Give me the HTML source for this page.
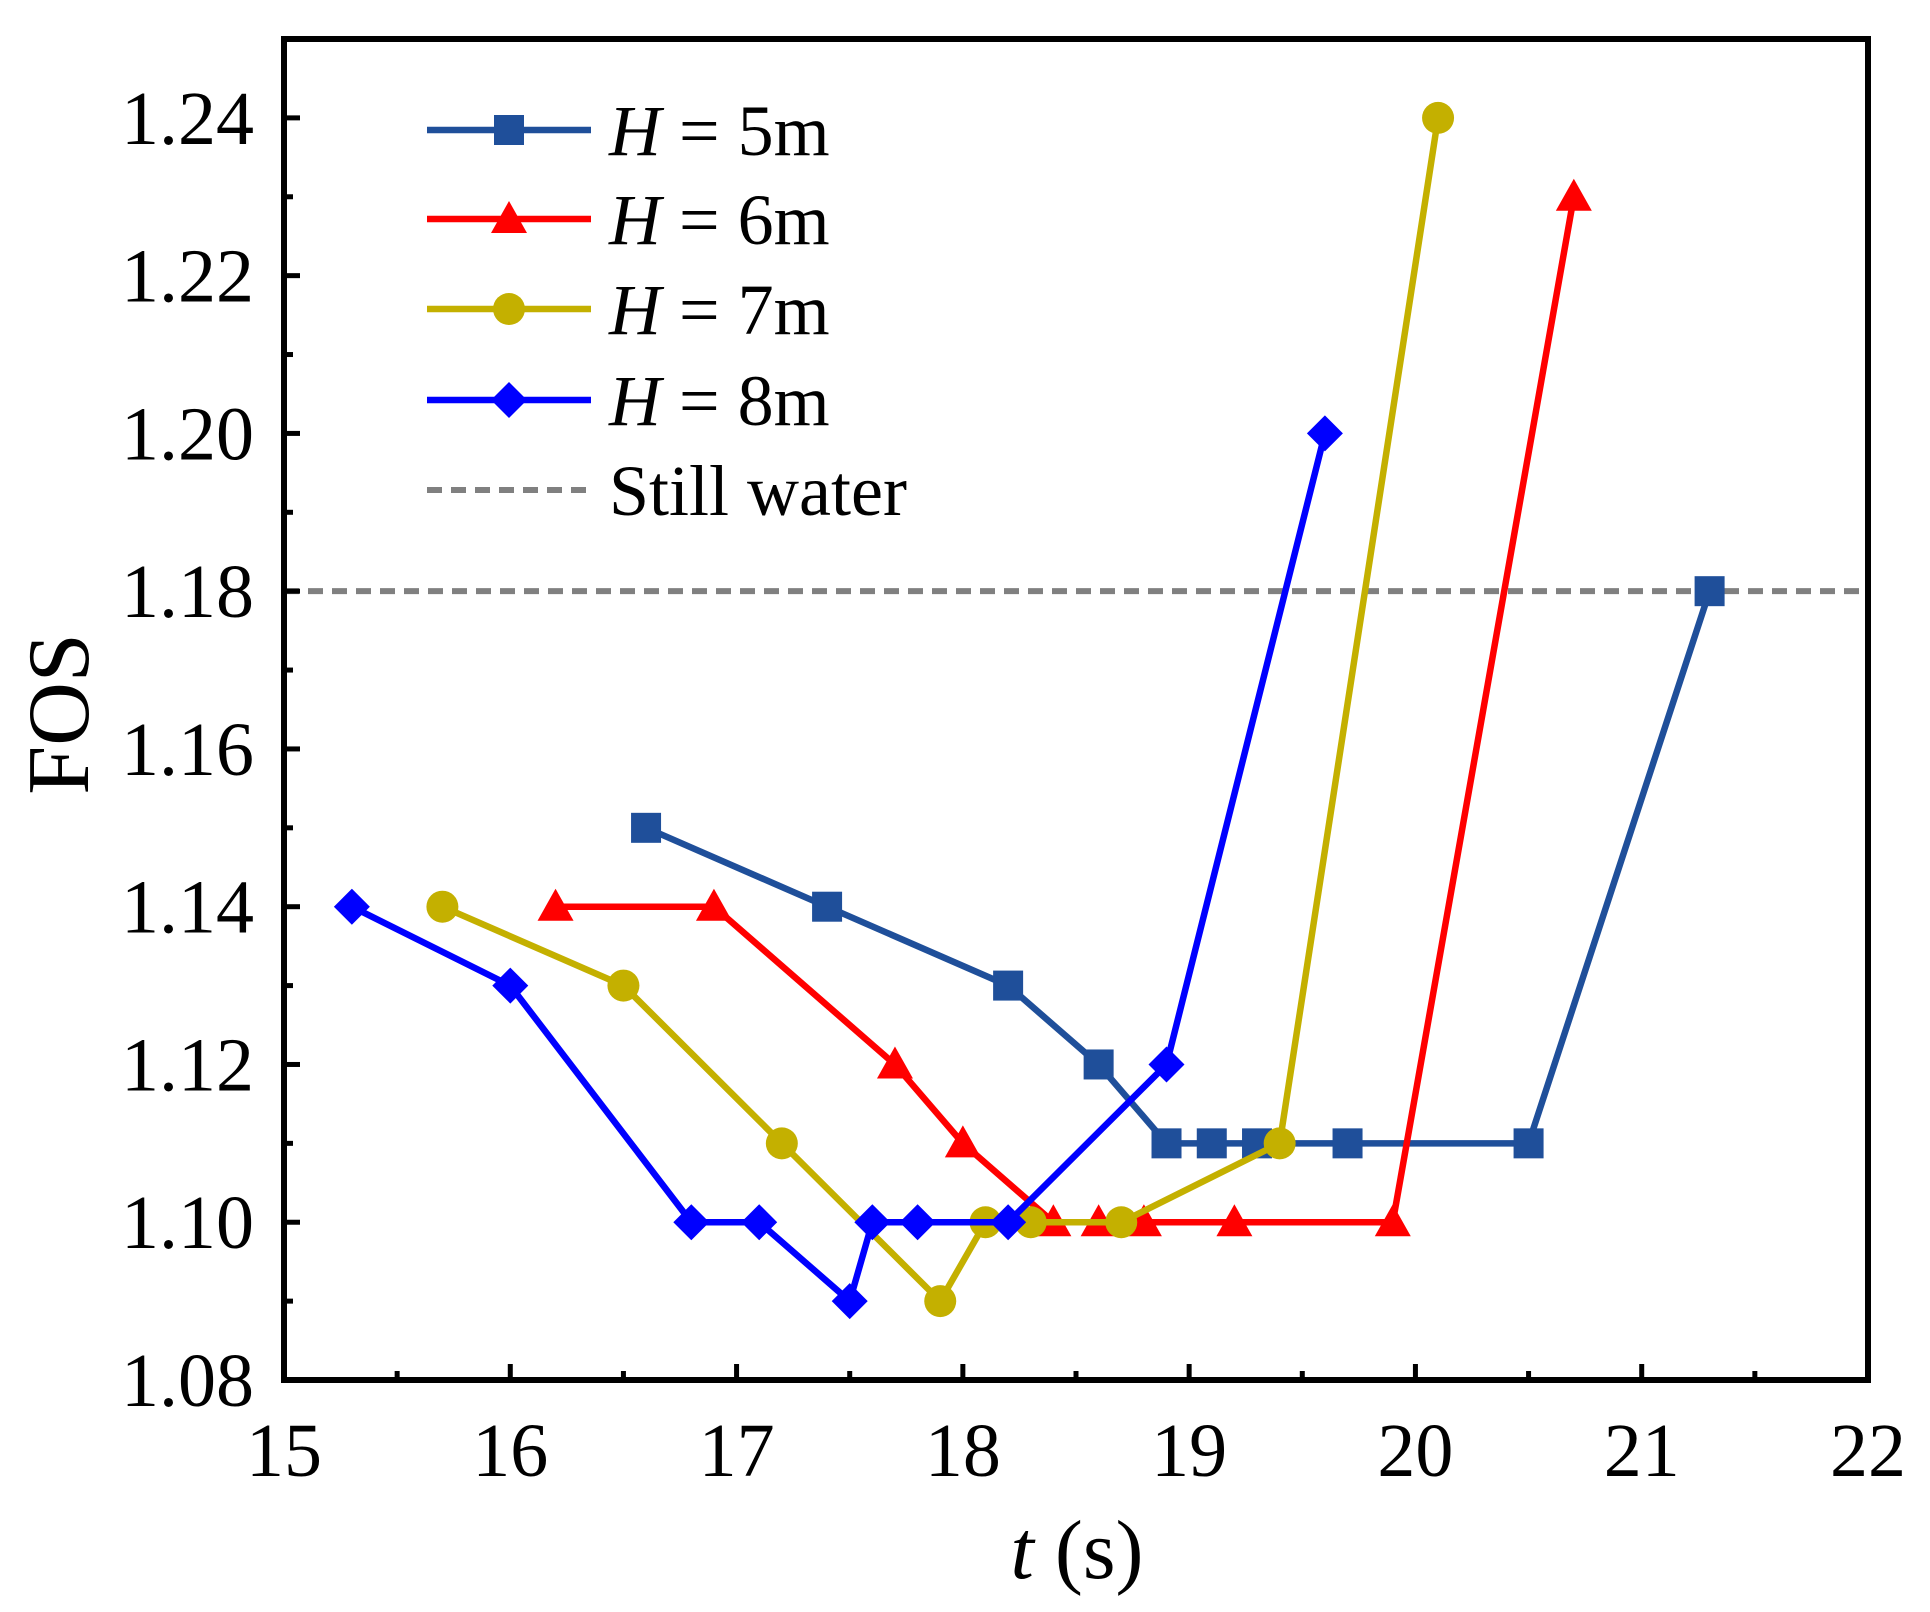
<!DOCTYPE html>
<html><head><meta charset="utf-8"><style>
html,body{margin:0;padding:0;background:#fff;}
svg{display:block;font-family:"Liberation Serif",serif;}
</style></head><body>
<svg id="chart" width="1930" height="1612"></svg>
<script>
const xTicks=[15,16,17,18,19,20,21,22];
const yTicks=[1.08,1.10,1.12,1.14,1.16,1.18,1.20,1.22,1.24];
const t5=[16.6,17.4,18.2,18.6,18.9,19.1,19.3,19.7,20.5,21.3];
const f5=[1.15,1.14,1.13,1.12,1.11,1.11,1.11,1.11,1.11,1.18];
const t6=[16.2,16.9,17.7,18.0,18.4,18.6,18.8,19.2,19.9,20.7];
const f6=[1.14,1.14,1.12,1.11,1.10,1.10,1.10,1.10,1.10,1.23];
const t7=[15.7,16.5,17.2,17.9,18.1,18.3,18.7,19.4,20.1];
const f7=[1.14,1.13,1.11,1.09,1.10,1.10,1.10,1.11,1.24];
const t8=[15.3,16.0,16.8,17.1,17.5,17.6,17.8,18.2,18.9,19.6];
const f8=[1.14,1.13,1.10,1.10,1.09,1.10,1.10,1.10,1.12,1.20];
const stillWater=1.18;

const L=284,R=1868,T=39,B=1380;
const X=v=>L+(v-15)/(22-15)*(R-L);
const Y=v=>B-(v-1.08)/(1.25-1.08)*(B-T);
const NS="http://www.w3.org/2000/svg";
const svg=document.getElementById('chart');
function mk(tag,attrs,parent){const e=document.createElementNS(NS,tag);for(const k in attrs)e.setAttribute(k,attrs[k]);(parent||svg).appendChild(e);return e;}

const sw=mk('line',{x1:L,x2:R,y1:Y(stillWater),y2:Y(stillWater),stroke:'#808080','stroke-width':6,'stroke-dasharray':'15 9'});



function marker(shape,cx,cy,color,g){
  const s=15;
  if(shape==='sq') return mk('rect',{x:cx-s,y:cy-s,width:2*s,height:2*s,fill:color},g);
  if(shape==='tri') return mk('polygon',{points:`${cx},${cy-18} ${cx+18},${cy+14} ${cx-18},${cy+14}`,fill:color},g);
  if(shape==='ci') return mk('circle',{cx:cx,cy:cy,r:16,fill:color},g);
  return mk('polygon',{points:`${cx},${cy-18} ${cx+18},${cy} ${cx},${cy+18} ${cx-18},${cy}`,fill:color},g);
}
const series=[
 {name:'series-h5',t:t5,f:f5,c:'#1f4f9a',m:'sq'},
 {name:'series-h6',t:t6,f:f6,c:'#ff0000',m:'tri'},
 {name:'series-h7',t:t7,f:f7,c:'#c4b000',m:'ci'},
 {name:'series-h8',t:t8,f:f8,c:'#0000ff',m:'di'}];
series.forEach(s=>{
  const g=mk('g',{});
  
  
  mk('polyline',{points:s.t.map((v,i)=>X(v)+','+Y(s.f[i])).join(' '),fill:'none',stroke:s.c,'stroke-width':6.5,'stroke-linejoin':'round'},g);
  s.t.forEach((v,i)=>{const p=marker(s.m,X(v),Y(s.f[i]),s.c,g);
    
    });
});

const fr=mk('rect',{x:L,y:T,width:R-L,height:B-T,fill:'none',stroke:'#000','stroke-width':6});


xTicks.forEach((v,i)=>{
  mk('line',{x1:X(v),x2:X(v),y1:B,y2:B-16,stroke:'#000','stroke-width':5});
  if(i<xTicks.length-1) mk('line',{x1:X(v+0.5),x2:X(v+0.5),y1:B,y2:B-9,stroke:'#000','stroke-width':5});
  const tx=mk('text',{x:X(v),y:1476,'font-size':76,'text-anchor':'middle'});tx.textContent=v;
  
  
});
yTicks.forEach((v,i)=>{
  mk('line',{x1:L,x2:L+16,y1:Y(v),y2:Y(v),stroke:'#000','stroke-width':5});
  mk('line',{x1:L,x2:L+9,y1:Y(v+0.01),y2:Y(v+0.01),stroke:'#000','stroke-width':5});
  const tx=mk('text',{x:254,y:Y(v)+26,'font-size':76,'text-anchor':'end'});tx.textContent=v.toFixed(2);
  
  
});
const xl=mk('text',{x:1077,y:1578,'font-size':84,'text-anchor':'middle'});
xl.innerHTML='<tspan font-style="italic">t</tspan> (s)';


const yl=mk('text',{x:0,y:0,'font-size':88,'text-anchor':'middle',transform:'translate(88,714) rotate(-90)'});
yl.textContent='FOS';



const leg=[{c:'#1f4f9a',m:'sq',l:'5m'},{c:'#ff0000',m:'tri',l:'6m'},{c:'#c4b000',m:'ci',l:'7m'},{c:'#0000ff',m:'di',l:'8m'}];
const ly=[130,219,309,400];
leg.forEach((e,i)=>{
  const g=mk('g',{});
  
  
  mk('line',{x1:427,x2:591,y1:ly[i],y2:ly[i],stroke:e.c,'stroke-width':6.5},g);
  marker(e.m,509,ly[i],e.c,g);
  const t=mk('text',{x:609,y:ly[i]+25,'font-size':72},g);
  t.innerHTML='<tspan font-style="italic">H</tspan> = '+e.l;
});
const g5=mk('g',{});


mk('line',{x1:427,x2:591,y1:490,y2:490,stroke:'#808080','stroke-width':6,'stroke-dasharray':'15 9'},g5);
const t5l=mk('text',{x:609,y:515,'font-size':72},g5);t5l.textContent='Still water';
</script>
</body></html>
